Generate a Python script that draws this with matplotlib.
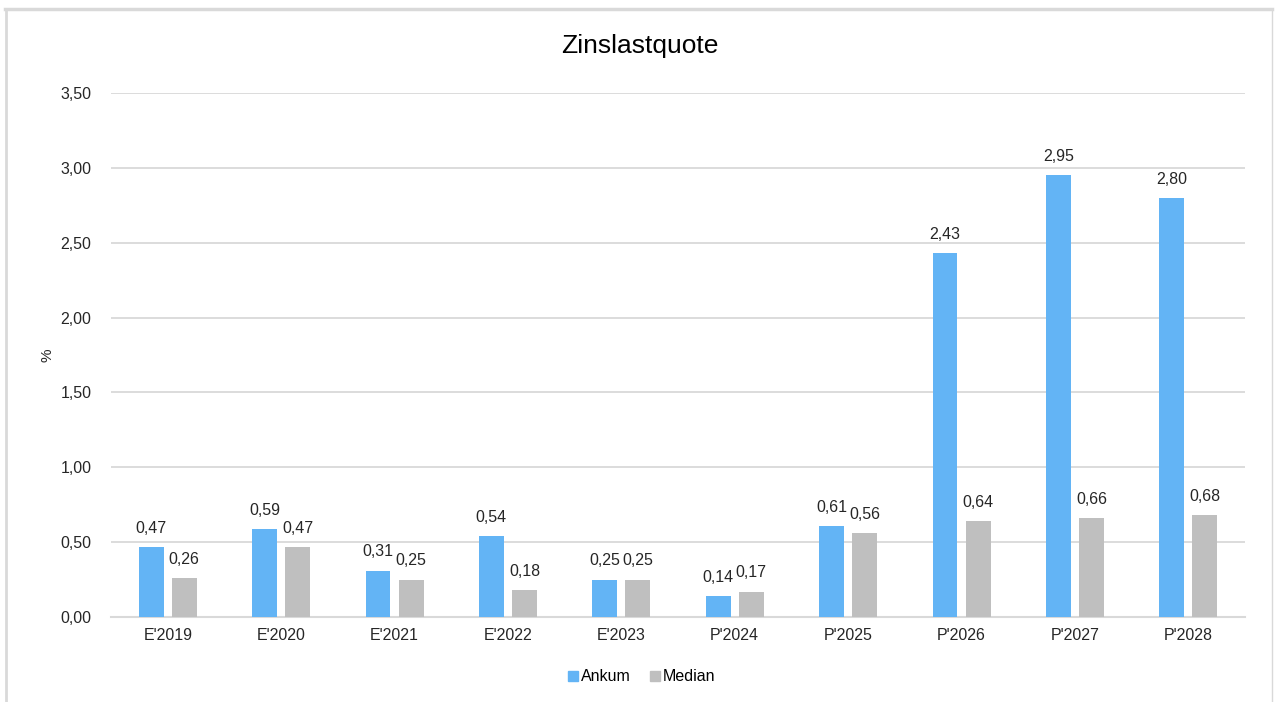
import matplotlib.pyplot as plt
import numpy as np
from matplotlib.lines import Line2D

plt.rcParams['font.family'] = ['Liberation Sans', 'DejaVu Sans']

years = ["E'2019", "E'2020", "E'2021", "E'2022", "E'2023",
         "P'2024", "P'2025", "P'2026", "P'2027", "P'2028"]
ankum = [0.47, 0.59, 0.31, 0.54, 0.25, 0.14, 0.61, 2.43, 2.95, 2.80]
median = [0.26, 0.47, 0.25, 0.18, 0.25, 0.17, 0.56, 0.64, 0.66, 0.68]

blue = '#63B4F5'
gray = '#BFBFBF'
grid = '#D9D9D9'

fig = plt.figure(figsize=(12.75, 7.02), dpi=100)
ax = fig.add_axes([0.0871, 0.1211, 0.8894, 0.7464])

x = np.arange(len(years))
w = 0.22
off = 0.146
b1 = ax.bar(x - off, ankum, w, color=blue, label='Ankum', zorder=3)
b2 = ax.bar(x + off, median, w, color=gray, label='Median', zorder=3)

def fmt(v):
    return f'{v:.2f}'.replace('.', ',')

for bars, vals in ((b1, ankum), (b2, median)):
    for r, v in zip(bars, vals):
        ax.annotate(fmt(v), (r.get_x() + r.get_width() / 2, v),
                    xytext=(0, 8), textcoords='offset points',
                    ha='center', va='bottom', fontsize=11.5, color='#262626')

ax.set_xlim(-0.5, len(years) - 0.5)
ax.set_ylim(0, 3.5)
ax.set_yticks(np.arange(0, 3.51, 0.5))
ax.set_yticklabels([fmt(t) for t in np.arange(0, 3.51, 0.5)])
ax.set_xticks(x)
ax.set_xticklabels(years)
ax.tick_params(axis='both', length=0, labelsize=11.5, colors='#262626')
ax.tick_params(axis='y', pad=14)
ax.tick_params(axis='x', pad=8)
ax.grid(axis='y', color=grid, linewidth=1.3, zorder=0)
for s in ['top', 'right', 'left']:
    ax.spines[s].set_visible(False)
ax.spines['bottom'].set_color(grid)
ax.spines['bottom'].set_linewidth(1.5)

# y axis label placed on the figure
fig.text(0.037, 0.494, '%', rotation=90, ha='center', va='center',
         fontsize=11, color='#262626')

fig.text(0.502, 0.934, 'Zinslastquote', ha='center', va='center',
         fontsize=19, color='#000000')

handles = [Line2D([], [], marker='s', linestyle='', color=blue, markersize=7),
           Line2D([], [], marker='s', linestyle='', color=gray, markersize=7)]
fig.legend(handles, ['Ankum', 'Median'], loc='center', bbox_to_anchor=(0.502, 0.036),
           ncol=2, frameon=False, fontsize=11.5, handletextpad=0.0,
           columnspacing=1.0, handlelength=1.0)

# outer chart frame
fc = '#D9D9D9'
fig.add_artist(Line2D([0.004, 0.998], [0.987, 0.987], color=fc, lw=2.5))
fig.add_artist(Line2D([0.005, 0.005], [0.0, 0.987], color=fc, lw=2))
fig.add_artist(Line2D([0.998, 0.998], [0.0, 0.987], color=fc, lw=1))

fig.savefig('out.png', dpi=100, facecolor='white')
